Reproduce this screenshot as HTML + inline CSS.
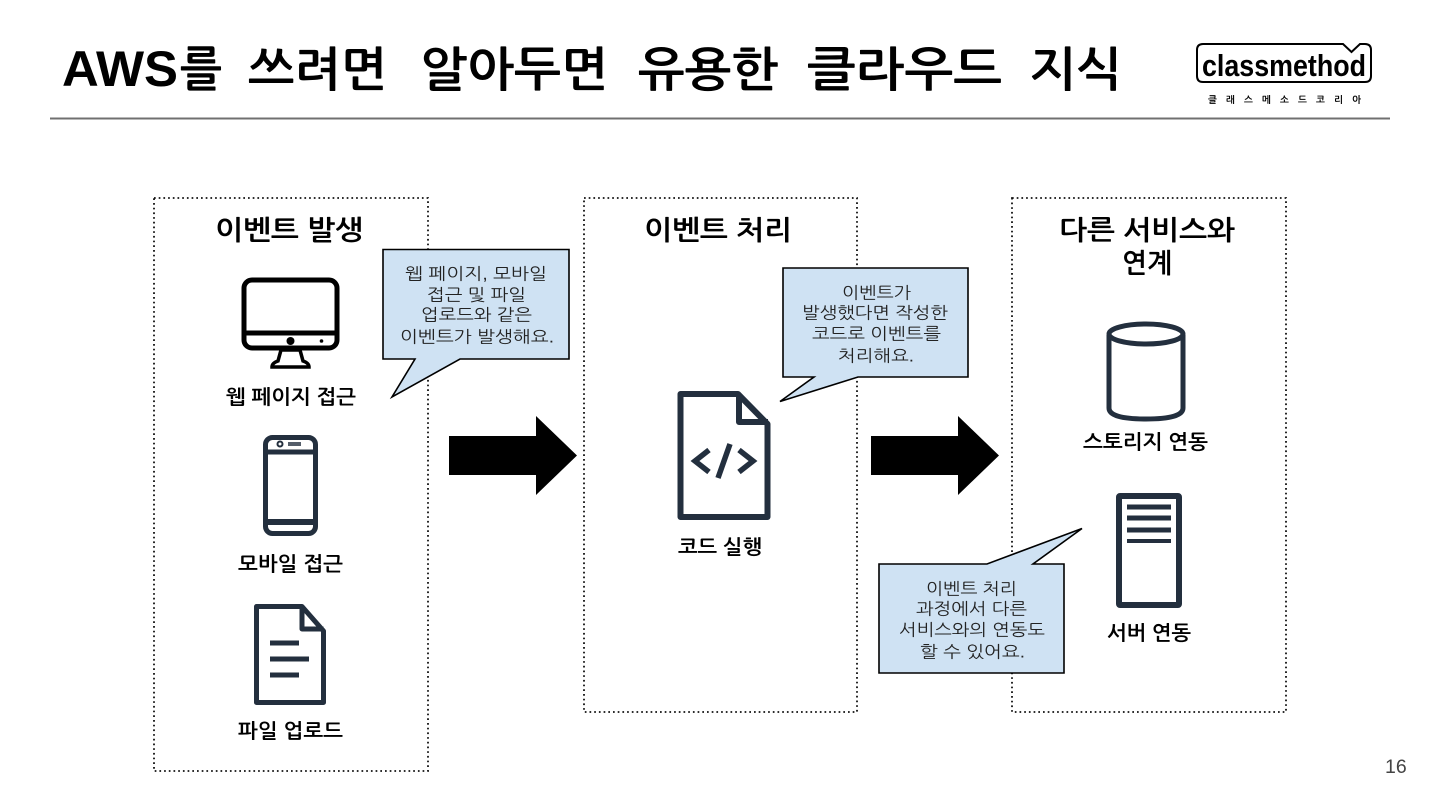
<!DOCTYPE html>
<html lang="ko"><head><meta charset="utf-8"><title>AWS</title>
<style>
html,body{margin:0;padding:0;background:#fff;width:1440px;height:810px;overflow:hidden}
svg{display:block}
text{font-family:"Liberation Sans","WenQuanYi Zen Hei","NanumGothic",sans-serif;fill:#000}
.t{font-size:47px;font-weight:bold}
.l{font-size:20px;font-weight:bold}
.h{font-size:27px;font-weight:bold}
.c{font-size:16.500px;fill:#222}
.box{fill:none;stroke:#111;stroke-width:1.800;stroke-dasharray:1.700 3}
.co{fill:#cfe2f3;stroke:#000;stroke-width:1.600;stroke-linejoin:miter}
.i{fill:none;stroke:#232f3e;stroke-width:5;stroke-linejoin:round}
</style></head><body>
<svg width="1440" height="810" viewBox="0 0 1440 810" xmlns="http://www.w3.org/2000/svg">
<text x="62" y="86" font-size="50" font-weight="bold" textLength="116" lengthAdjust="spacingAndGlyphs">AWS</text>
<text class="t" x="180" y="86" textLength="42" lengthAdjust="spacingAndGlyphs">를</text>
<text class="t" x="248" y="86" textLength="139" lengthAdjust="spacingAndGlyphs">쓰려면</text>
<text class="t" x="420" y="86" textLength="188" lengthAdjust="spacingAndGlyphs">알아두면</text>
<text class="t" x="638" y="86" textLength="140" lengthAdjust="spacingAndGlyphs">유용한</text>
<text class="t" x="807" y="86" textLength="195" lengthAdjust="spacingAndGlyphs">클라우드</text>
<text class="t" x="1030" y="86" textLength="92" lengthAdjust="spacingAndGlyphs">지식</text>
<line x1="50" y1="118.500" x2="1390" y2="118.500" stroke="#707070" stroke-width="2"/>

<path d="M1203 44H1343L1351.500 52L1360 44H1365Q1371 44 1371 50V76Q1371 82 1365 82H1203Q1197 82 1197 76V50Q1197 44 1203 44Z" fill="#fff" stroke="#000" stroke-width="2"/>
<text x="1202" y="76" font-size="31" font-weight="bold" textLength="164" lengthAdjust="spacingAndGlyphs">classmethod</text>
<text x="1208" y="103" font-size="9.500" font-weight="bold" textLength="153" lengthAdjust="spacing">클래스메소드코리아</text>

<rect class="box" x="154" y="198" width="274" height="573"/>
<rect class="box" x="584" y="198" width="273" height="514"/>
<rect class="box" x="1012" y="198" width="274" height="514"/>

<text class="h" x="215" y="239.500" textLength="148" lengthAdjust="spacingAndGlyphs">이벤트 발생</text>
<text class="h" x="644" y="239.500" textLength="148" lengthAdjust="spacingAndGlyphs">이벤트 처리</text>
<text class="h" x="1059" y="239.500" textLength="176" lengthAdjust="spacingAndGlyphs">다른 서비스와</text>
<text class="h" x="1122" y="272.500" textLength="50" lengthAdjust="spacingAndGlyphs">연계</text>

<polygon points="449,436 536,436 536,416 577,455.500 536,495 536,475 449,475" fill="#000"/>
<polygon points="871,436 958,436 958,416 999,455.500 958,495 958,475 871,475" fill="#000"/>

<!-- monitor -->
<g fill="none" stroke="#000" stroke-width="5" stroke-linejoin="round">
<rect x="244" y="280" width="93" height="68" rx="8"/>
<line x1="244" y1="333" x2="337" y2="333"/>
</g>
<path d="M281 350H300L303 361Q309 363 309 367H272Q272 363 278 361Z" fill="none" stroke="#000" stroke-width="3.500"/>
<circle cx="290.500" cy="341" r="4" fill="#000"/><circle cx="321.500" cy="341" r="1.800" fill="#000"/>

<!-- phone -->
<rect class="i" x="265.500" y="437.500" width="50" height="96" rx="7"/>
<rect x="265" y="449.500" width="51" height="5" fill="#232f3e"/>
<rect x="265" y="519" width="51" height="6" fill="#232f3e"/>
<circle cx="280" cy="444" r="2.500" fill="none" stroke="#232f3e" stroke-width="2"/>
<rect x="288" y="442" width="13" height="4" fill="#555e6a"/>

<!-- file -->
<path class="i" d="M256.500 606.500H302L323.500 631V702.500H256.500Z"/>
<path class="i" d="M302 606.500V629H323.500"/>
<g fill="#232f3e"><rect x="270" y="640.500" width="29" height="5"/><rect x="270" y="656.500" width="39" height="5"/><rect x="270" y="672.500" width="29" height="5"/></g>

<!-- code file -->
<path d="M680.500 394H738L767.500 424V517H680.500Z" fill="none" stroke="#232f3e" stroke-width="6" stroke-linejoin="round"/>
<path d="M739 394V422H768" fill="none" stroke="#232f3e" stroke-width="6" stroke-linejoin="round"/>
<path d="M709 450L695 461L709 472M739 450L753 461L739 472M730 444L718 478" fill="none" stroke="#232f3e" stroke-width="5.500"/>

<!-- cylinder -->
<path class="i" d="M1109 335V408Q1109 419 1146 419Q1183 419 1183 408V335"/>
<ellipse class="i" cx="1146" cy="334" rx="37" ry="10"/>

<!-- server -->
<rect x="1119" y="496" width="60" height="109" rx="1" fill="none" stroke="#232f3e" stroke-width="6"/>
<g fill="#232f3e"><rect x="1127" y="504.500" width="44" height="5"/><rect x="1127" y="515.500" width="44" height="5"/><rect x="1127" y="527.500" width="44" height="5"/><rect x="1127" y="539" width="44" height="4"/></g>

<text class="l" x="226" y="404" textLength="130" lengthAdjust="spacingAndGlyphs">웹 페이지 접근</text>
<text class="l" x="238" y="571" textLength="105" lengthAdjust="spacingAndGlyphs">모바일 접근</text>
<text class="l" x="238" y="738" textLength="105" lengthAdjust="spacingAndGlyphs">파일 업로드</text>
<text class="l" x="678" y="554" textLength="84" lengthAdjust="spacingAndGlyphs">코드 실행</text>
<text class="l" x="1083" y="449" textLength="125" lengthAdjust="spacingAndGlyphs">스토리지 연동</text>
<text class="l" x="1107" y="640" textLength="84" lengthAdjust="spacingAndGlyphs">서버 연동</text>

<!-- callouts -->
<path class="co" d="M383 249.500H569V359H460L392 397L415 359H383Z"/>
<text class="c" x="405" y="279.500" textLength="142" lengthAdjust="spacingAndGlyphs">웹 페이지, 모바일</text>
<text class="c" x="427" y="300.500" textLength="99" lengthAdjust="spacingAndGlyphs">접근 및 파일</text>
<text class="c" x="421" y="320.500" textLength="111" lengthAdjust="spacingAndGlyphs">업로드와 같은</text>
<text class="c" x="400" y="342.500" textLength="154" lengthAdjust="spacingAndGlyphs">이벤트가 발생해요.</text>

<path class="co" d="M783 268H968V377H858L780 401.500L814 377H783Z"/>
<text class="c" x="842" y="298.500" textLength="69" lengthAdjust="spacingAndGlyphs">이벤트가</text>
<text class="c" x="802" y="318.500" textLength="146" lengthAdjust="spacingAndGlyphs">발생했다면 작성한</text>
<text class="c" x="812" y="339.500" textLength="129" lengthAdjust="spacingAndGlyphs">코드로 이벤트를</text>
<text class="c" x="838" y="361.500" textLength="76" lengthAdjust="spacingAndGlyphs">처리해요.</text>

<path class="co" d="M879 564H987L1082 528.500L1033 564H1064V673H879Z"/>
<text class="c" x="926" y="594.500" textLength="91" lengthAdjust="spacingAndGlyphs">이벤트 처리</text>
<text class="c" x="916" y="614.500" textLength="111" lengthAdjust="spacingAndGlyphs">과정에서 다른</text>
<text class="c" x="899" y="635.500" textLength="146" lengthAdjust="spacingAndGlyphs">서비스와의 연동도</text>
<text class="c" x="920" y="657.500" textLength="105" lengthAdjust="spacingAndGlyphs">할 수 있어요.</text>

<text x="1385" y="773" font-size="19.500" style="fill:#444">16</text>
</svg>
</body></html>
